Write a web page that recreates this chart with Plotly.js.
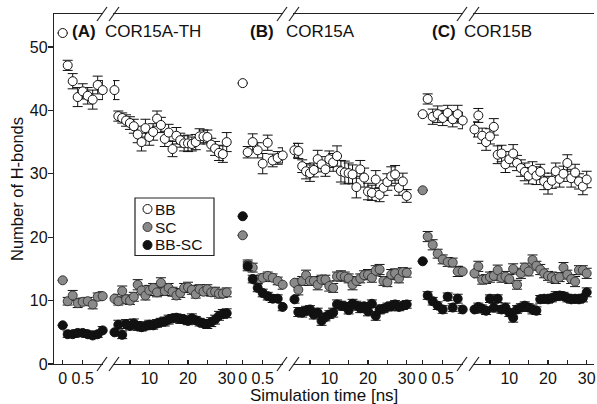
<!DOCTYPE html>
<html><head><meta charset="utf-8">
<script src="https://cdn.plot.ly/plotly-3.0.1.min.js"></script>
<style>html,body{margin:0;padding:0;background:#fff}#chart{width:597px;height:404px}</style>
</head><body><div id="chart"></div>
<script>
// ---- data ----
const seriesNames = ['BB', 'SC', 'BB-SC'];
const panelLetters = ['(A)', '(B)', '(C)'];
const panelNames = ['COR15A-TH', 'COR15A', 'COR15B'];
const xLabel = 'Simulation time [ns]';
const yLabel = 'Number of H-bonds';
const yTicks = [0, 10, 20, 30, 40, 50];
const earlyTickVals = [0, 0.5];
const earlyTickText = ['0', '0.5'];
const lateTickVals = [5, 10, 15, 20, 25, 30];
const lateTickText = ['', '10', '', '20', '', '30'];

// time points: early segment (0-1 ns) and late segment (1-30 ns)
const tEarly = [0, 0.125, 0.25, 0.375, 0.5, 0.625, 0.75, 0.875, 1.0];
const tLate = [1,2,3,4,5,6,7,8,9,10,11,12,13,14,15,16,17,18,19,20,21,22,23,24,25,26,27,28,29,30];

// Panel A: COR15A-TH
const bbA_early = [52.2, 47.1, 44.6, 42.1, 43.0, 42.3, 41.7, 44.0, 43.2];
const bbA_early_err = [0, 0.8, 1.2, 1.5, 1.2, 1.3, 1.5, 1.4, 1.5];
const bbA_late = [43.2, 39.1, 38.8, 38.4, 38.0, 37.5, 36.2, 35.0, 37.2, 35.8, 36.6, 38.7, 37.7, 35.5, 36.5, 33.9, 36.0, 35.3, 34.8, 34.8, 34.7, 35.0, 35.9, 35.9, 35.8, 34.6, 34.0, 33.3, 33.1, 35.0];
const bbA_late_err = [1.5, 0.8, 0.8, 0.9, 1.0, 1.1, 1.3, 1.4, 1.4, 1.3, 1.3, 1.2, 1.2, 1.2, 1.3, 1.2, 1.3, 1.1, 1.2, 1.3, 1.1, 1.2, 1.2, 1.0, 1.1, 1.0, 1.1, 1.2, 1.3, 1.5];
const scA_early = [13.2, 9.9, 10.8, 9.6, 9.8, 9.9, 9.4, 10.6, 10.7];
const scA_early_err = [0, 0.6, 0.8, 0.7, 0.6, 0.6, 0.7, 0.6, 0.7];
const scA_late = [10.3, 9.9, 11.5, 10.2, 10.0, 10.6, 12.5, 11.6, 10.8, 11.6, 12.0, 11.3, 12.8, 11.5, 12.0, 11.4, 10.8, 11.2, 12.0, 12.1, 11.7, 11.0, 11.8, 11.4, 11.8, 11.3, 11.4, 11.1, 11.1, 11.3];
const scA_late_err = [0.7, 0.6, 0.8, 0.7, 0.6, 0.7, 0.8, 0.7, 0.7, 0.8, 0.7, 0.7, 0.8, 0.7, 0.7, 0.7, 0.6, 0.7, 0.7, 0.8, 0.7, 0.6, 0.7, 0.6, 0.7, 0.6, 0.7, 0.7, 0.6, 0.7];
const bbscA_early = [6.1, 4.7, 4.7, 4.9, 4.9, 4.7, 4.5, 4.7, 5.3];
const bbscA_early_err = [0, 0.5, 0.5, 0.5, 0.5, 0.5, 0.5, 0.5, 0.6];
const bbscA_late = [5.0, 6.2, 4.6, 6.3, 6.0, 6.4, 6.0, 5.8, 6.0, 6.2, 6.1, 6.4, 6.6, 6.7, 7.0, 7.2, 7.3, 7.1, 7.0, 6.8, 7.2, 6.9, 6.6, 6.4, 6.3, 6.6, 7.0, 7.6, 7.9, 8.0];
const bbscA_late_err = [0.6, 0.7, 0.6, 0.7, 0.6, 0.7, 0.7, 0.6, 0.6, 0.7, 0.6, 0.6, 0.6, 0.7, 0.7, 0.6, 0.6, 0.7, 0.6, 0.6, 0.7, 0.6, 0.6, 0.6, 0.7, 0.7, 0.7, 0.7, 0.7, 0.7];

// Panel B: COR15A
const bbB_early = [44.3, 33.4, 35.0, 33.7, 31.6, 34.9, 32.1, 32.5, 32.9];
const bbB_early_err = [0, 0.9, 1.3, 1.2, 1.6, 1.2, 1.0, 1.0, 1.2];
const bbB_late = [33.7, 33.6, 31.2, 30.4, 30.1, 30.6, 32.3, 31.5, 30.7, 32.3, 31.8, 32.8, 30.4, 30.2, 30.1, 29.9, 27.9, 30.7, 29.4, 27.2, 27.0, 29.1, 26.7, 27.8, 28.7, 29.6, 29.9, 27.8, 28.8, 26.5];
const bbB_late_err = [1.1, 1.2, 1.0, 1.2, 1.3, 1.1, 1.4, 1.2, 1.1, 1.3, 1.4, 1.6, 1.7, 1.8, 1.6, 1.5, 1.7, 1.4, 1.5, 1.3, 1.2, 1.4, 1.1, 1.2, 1.3, 1.5, 1.4, 1.2, 1.3, 1.0];
const scB_early = [20.3, 15.7, 15.2, 13.3, 13.6, 13.9, 13.6, 13.1, 12.5];
const scB_early_err = [0, 0.7, 0.7, 0.6, 0.6, 0.6, 0.6, 0.6, 0.7];
const scB_late = [12.8, 11.7, 13.1, 14.0, 13.1, 13.1, 12.5, 13.3, 13.3, 12.3, 12.0, 13.8, 13.9, 13.8, 13.5, 12.5, 13.1, 13.5, 14.0, 14.1, 13.6, 14.7, 14.9, 13.1, 12.9, 14.1, 14.3, 13.5, 14.5, 14.4];
const scB_late_err = [0.7, 0.8, 0.7, 0.8, 0.7, 0.7, 0.8, 0.7, 0.7, 0.8, 0.7, 0.7, 0.8, 0.7, 0.7, 0.8, 0.7, 0.7, 0.7, 0.8, 0.7, 0.8, 0.8, 0.7, 0.7, 0.8, 0.7, 0.7, 0.7, 0.7];
const bbscB_early = [23.3, 15.4, 13.4, 12.0, 11.2, 10.7, 10.3, 10.3, 9.0];
const bbscB_early_err = [0, 0.7, 0.6, 0.6, 0.6, 0.6, 0.6, 0.6, 0.6];
const bbscB_late = [10.2, 8.2, 8.1, 8.4, 8.6, 7.8, 8.1, 6.8, 7.4, 7.8, 8.1, 9.4, 9.2, 9.1, 8.5, 9.5, 9.2, 8.8, 9.1, 8.3, 9.5, 7.6, 8.6, 8.7, 9.0, 9.1, 9.4, 9.0, 9.2, 9.4];
const bbscB_late_err = [0.6, 0.7, 0.7, 0.7, 0.6, 0.7, 0.7, 0.7, 0.6, 0.6, 0.7, 0.7, 0.7, 0.6, 0.6, 0.7, 0.7, 0.7, 0.6, 0.7, 0.6, 0.7, 0.7, 0.6, 0.6, 0.7, 0.6, 0.6, 0.6, 0.6];

// Panel C: COR15B
const bbC_early = [39.4, 41.8, 39.0, 39.4, 38.8, 39.6, 38.6, 39.4, 38.4];
const bbC_early_err = [0, 0.8, 1.2, 1.3, 1.2, 1.2, 1.2, 1.4, 1.3];
const bbC_late = [37.0, 39.2, 36.0, 35.0, 35.9, 37.4, 33.0, 33.2, 31.5, 32.3, 33.2, 31.7, 30.9, 30.3, 29.7, 30.6, 29.7, 30.3, 28.8, 28.2, 28.9, 30.4, 29.2, 30.0, 31.7, 29.3, 30.2, 28.8, 28.0, 29.1];
const bbC_late_err = [1.2, 1.1, 1.2, 1.3, 1.2, 1.3, 1.4, 1.3, 1.3, 1.2, 1.4, 1.2, 1.3, 1.4, 1.3, 1.3, 1.4, 1.2, 1.3, 1.4, 1.2, 1.3, 1.3, 1.2, 1.3, 1.4, 1.3, 1.2, 1.3, 1.3];
const scC_early = [27.4, 20.1, 18.8, 17.4, 16.5, 16.1, 16.0, 14.6, 14.6];
const scC_early_err = [0, 0.8, 0.8, 0.7, 0.7, 0.7, 0.7, 0.8, 0.8];
const scC_late = [14.3, 15.4, 13.3, 13.4, 13.7, 13.9, 14.8, 13.6, 13.8, 13.4, 15.0, 12.5, 14.3, 15.2, 14.6, 16.4, 15.5, 14.9, 14.3, 13.9, 13.7, 13.4, 13.7, 15.2, 14.1, 13.4, 13.0, 14.8, 14.8, 14.3];
const scC_late_err = [0.7, 0.8, 0.7, 0.7, 0.8, 0.7, 0.8, 0.7, 0.8, 0.7, 0.8, 0.7, 0.8, 0.7, 0.7, 0.8, 0.7, 0.8, 0.7, 0.7, 0.8, 0.7, 0.7, 0.8, 0.7, 0.7, 0.8, 0.7, 0.7, 0.8];
const bbscC_early = [16.2, 10.8, 9.9, 9.2, 8.6, 10.6, 8.9, 10.3, 8.6];
const bbscC_early_err = [0, 0.6, 0.6, 0.6, 0.6, 0.6, 0.6, 0.7, 0.6];
const bbscC_late = [8.6, 9.0, 8.7, 8.4, 10.3, 8.9, 10.3, 8.6, 8.9, 8.1, 7.3, 8.6, 8.9, 9.2, 8.9, 8.6, 8.4, 10.2, 10.3, 10.2, 10.4, 10.7, 10.8, 10.7, 10.4, 10.2, 10.3, 10.2, 10.4, 11.3];
const bbscC_late_err = [0.6, 0.6, 0.6, 0.6, 0.6, 0.7, 0.6, 0.6, 0.7, 0.6, 0.7, 0.6, 0.6, 0.6, 0.6, 0.7, 0.6, 0.6, 0.6, 0.6, 0.6, 0.7, 0.6, 0.6, 0.6, 0.6, 0.6, 0.6, 0.6, 0.7];

// ---- assembly ----
const panels = [
  {early: [bbA_early, scA_early, bbscA_early], earlyErr: [bbA_early_err, scA_early_err, bbscA_early_err],
   late: [bbA_late, scA_late, bbscA_late], lateErr: [bbA_late_err, scA_late_err, bbscA_late_err]},
  {early: [bbB_early, scB_early, bbscB_early], earlyErr: [bbB_early_err, scB_early_err, bbscB_early_err],
   late: [bbB_late, scB_late, bbscB_late], lateErr: [bbB_late_err, scB_late_err, bbscB_late_err]},
  {early: [bbC_early, scC_early, bbscC_early], earlyErr: [bbC_early_err, scC_early_err, bbscC_early_err],
   late: [bbC_late, scC_late, bbscC_late], lateErr: [bbC_late_err, scC_late_err, bbscC_late_err]}
];

const fills = ['#ffffff', '#8a8a8a', '#111111'];
const outlines = ['#111111', '#3a3a3a', '#111111'];
const markerStyles = fills.map((c, i) => ({size: 9, color: c, line: {color: outlines[i], width: 1}}));

const traces = [];
panels.forEach((p, k) => {
  const xe = 'x' + (k === 0 ? '' : (2 * k + 1));
  const xl = 'x' + (2 * k + 2);
  for (let s = 0; s < 3; s++) {
    traces.push({
      type: 'scatter', mode: 'markers', name: seriesNames[s],
      x: tEarly, y: p.early[s], xaxis: xe, yaxis: 'y',
      error_y: {type: 'data', array: p.earlyErr[s], visible: true, color: '#111', thickness: 1, width: 5},
      marker: markerStyles[s], cliponaxis: false, showlegend: false
    });
  }
  for (let s = 0; s < 3; s++) {
    traces.push({
      type: 'scatter', mode: 'markers', name: seriesNames[s],
      x: tLate, y: p.late[s], xaxis: xl, yaxis: 'y',
      error_y: {type: 'data', array: p.lateErr[s], visible: true, color: '#111', thickness: 1, width: 5},
      marker: markerStyles[s], cliponaxis: false, showlegend: false
    });
  }
});

// geometry (pixels -> paper fraction)
const L = 54, W = 540, B = 364, H = 350;
const P = px => (px - L) / W;
const Q = py => (B - py) / H;
const lineCol = '#222';
const font = 'Liberation Sans, Arial, Helvetica, sans-serif';

function xax(dom, range, tv, tt) {
  return {domain: dom, range: range, anchor: 'y', tickmode: 'array', tickvals: tv, ticktext: tt,
    ticks: 'inside', ticklen: 4, tickwidth: 1.2, tickcolor: lineCol,
    showline: true, linecolor: lineCol, linewidth: 1.2, mirror: true,
    showgrid: false, zeroline: false, tickfont: {size: 16, color: '#111'}, fixedrange: true};
}

const layout = {
  width: 597, height: 404,
  margin: {l: 54, r: 3, t: 14, b: 40},
  paper_bgcolor: '#fff', plot_bgcolor: '#fff',
  font: {family: font, color: '#111', size: 16},
  showlegend: false,
  yaxis: {domain: [0, 1], range: [0, 55.2], anchor: 'x', side: 'left', tickvals: yTicks,
    ticks: 'outside', ticklen: 5, tickwidth: 1.2, tickcolor: lineCol, ticklabelstandoff: -3,
    showline: true, linecolor: lineCol, linewidth: 1.2, showgrid: false, zeroline: false,
    tickfont: {size: 16}, automargin: true,
    title: {text: yLabel, font: {size: 16.5}, standoff: 2}, fixedrange: true},
  annotations: [],
  shapes: []
};

const sepAxes = [
  {position: 1 / 3, side: 'left', ticks: 'outside', len: 4},
  {position: 1 / 3, side: 'right', ticks: 'outside', len: 5},
  {position: 2 / 3, side: 'left', ticks: 'outside', len: 4},
  {position: 2 / 3, side: 'right', ticks: 'outside', len: 5},
  {position: 1, side: 'right', ticks: 'inside', len: 5}
];
sepAxes.forEach((a, i) => {
  layout['yaxis' + (i + 2)] = {overlaying: 'y', anchor: 'free', position: a.position, side: a.side,
    range: [0, 55.2], tickvals: yTicks, ticks: a.ticks, ticklen: a.len, tickwidth: 1.2, tickcolor: lineCol,
    showticklabels: false, showline: true, linecolor: lineCol, linewidth: 1.2,
    showgrid: false, zeroline: false, fixedrange: true};
});

for (let k = 0; k < 3; k++) {
  const o = 180 * k;
  const e1 = 'xaxis' + (k === 0 ? '' : (2 * k + 1));
  const e2 = 'xaxis' + (2 * k + 2);
  layout[e1] = xax([P(54 + o), P(103 + o)], [-0.2175, 1.0075], earlyTickVals, earlyTickText);
  layout[e2] = xax([P(113 + o), k === 2 ? 1 : P(234 + o)], [0.62, 31.886], lateTickVals, lateTickText);
  // axis-break marks
  [P(102 + o), P(114 + o)].forEach(xp => {
    [0, 1].forEach(yp => {
      layout.shapes.push({type: 'line', xref: 'paper', yref: 'paper', xsizemode: 'pixel', ysizemode: 'pixel',
        xanchor: xp, yanchor: yp, x0: -5, x1: 5, y0: -7, y1: 7, line: {color: lineCol, width: 1.2}});
    });
  });
}

// panel labels
const labelX = [[70, 103], [248, 284], [430, 462]];
for (let k = 0; k < 3; k++) {
  layout.annotations.push({xref: 'paper', yref: 'paper', x: P(labelX[k][0]), y: Q(31),
    xanchor: 'left', yanchor: 'middle', showarrow: false, text: '<b>' + panelLetters[k] + '</b>', font: {size: 17}});
  layout.annotations.push({xref: 'paper', yref: 'paper', x: P(labelX[k][1]), y: Q(31),
    xanchor: 'left', yanchor: 'middle', showarrow: false, text: panelNames[k], font: {size: 17}});
}
// shared x-axis title
layout.annotations.push({xref: 'paper', yref: 'paper', x: 0.5, y: Q(395),
  xanchor: 'center', yanchor: 'middle', showarrow: false, text: xLabel, font: {size: 17}});

// legend box (series key)
const legendRows = [209, 227, 245];
layout.shapes.push({type: 'rect', xref: 'paper', yref: 'paper', x0: P(135), x1: P(214), y0: Q(255.5), y1: Q(198),
  fillcolor: '#fff', line: {color: lineCol, width: 1.2}, layer: 'above'});
seriesNames.forEach((name, s) => {
  layout.shapes.push({type: 'circle', xref: 'paper', yref: 'paper', xsizemode: 'pixel', ysizemode: 'pixel',
    xanchor: P(147.5), yanchor: Q(legendRows[s]), x0: -4.5, x1: 4.5, y0: -4.5, y1: 4.5,
    fillcolor: fills[s], line: {color: outlines[s], width: 1}, layer: 'above'});
  layout.annotations.push({xref: 'paper', yref: 'paper', x: P(154), y: Q(legendRows[s]),
    xanchor: 'left', yanchor: 'middle', showarrow: false, text: name, font: {size: 15.5}, borderpad: 0});
});

Plotly.newPlot('chart', traces, layout, {staticPlot: true, displayModeBar: false});
</script></body></html>
